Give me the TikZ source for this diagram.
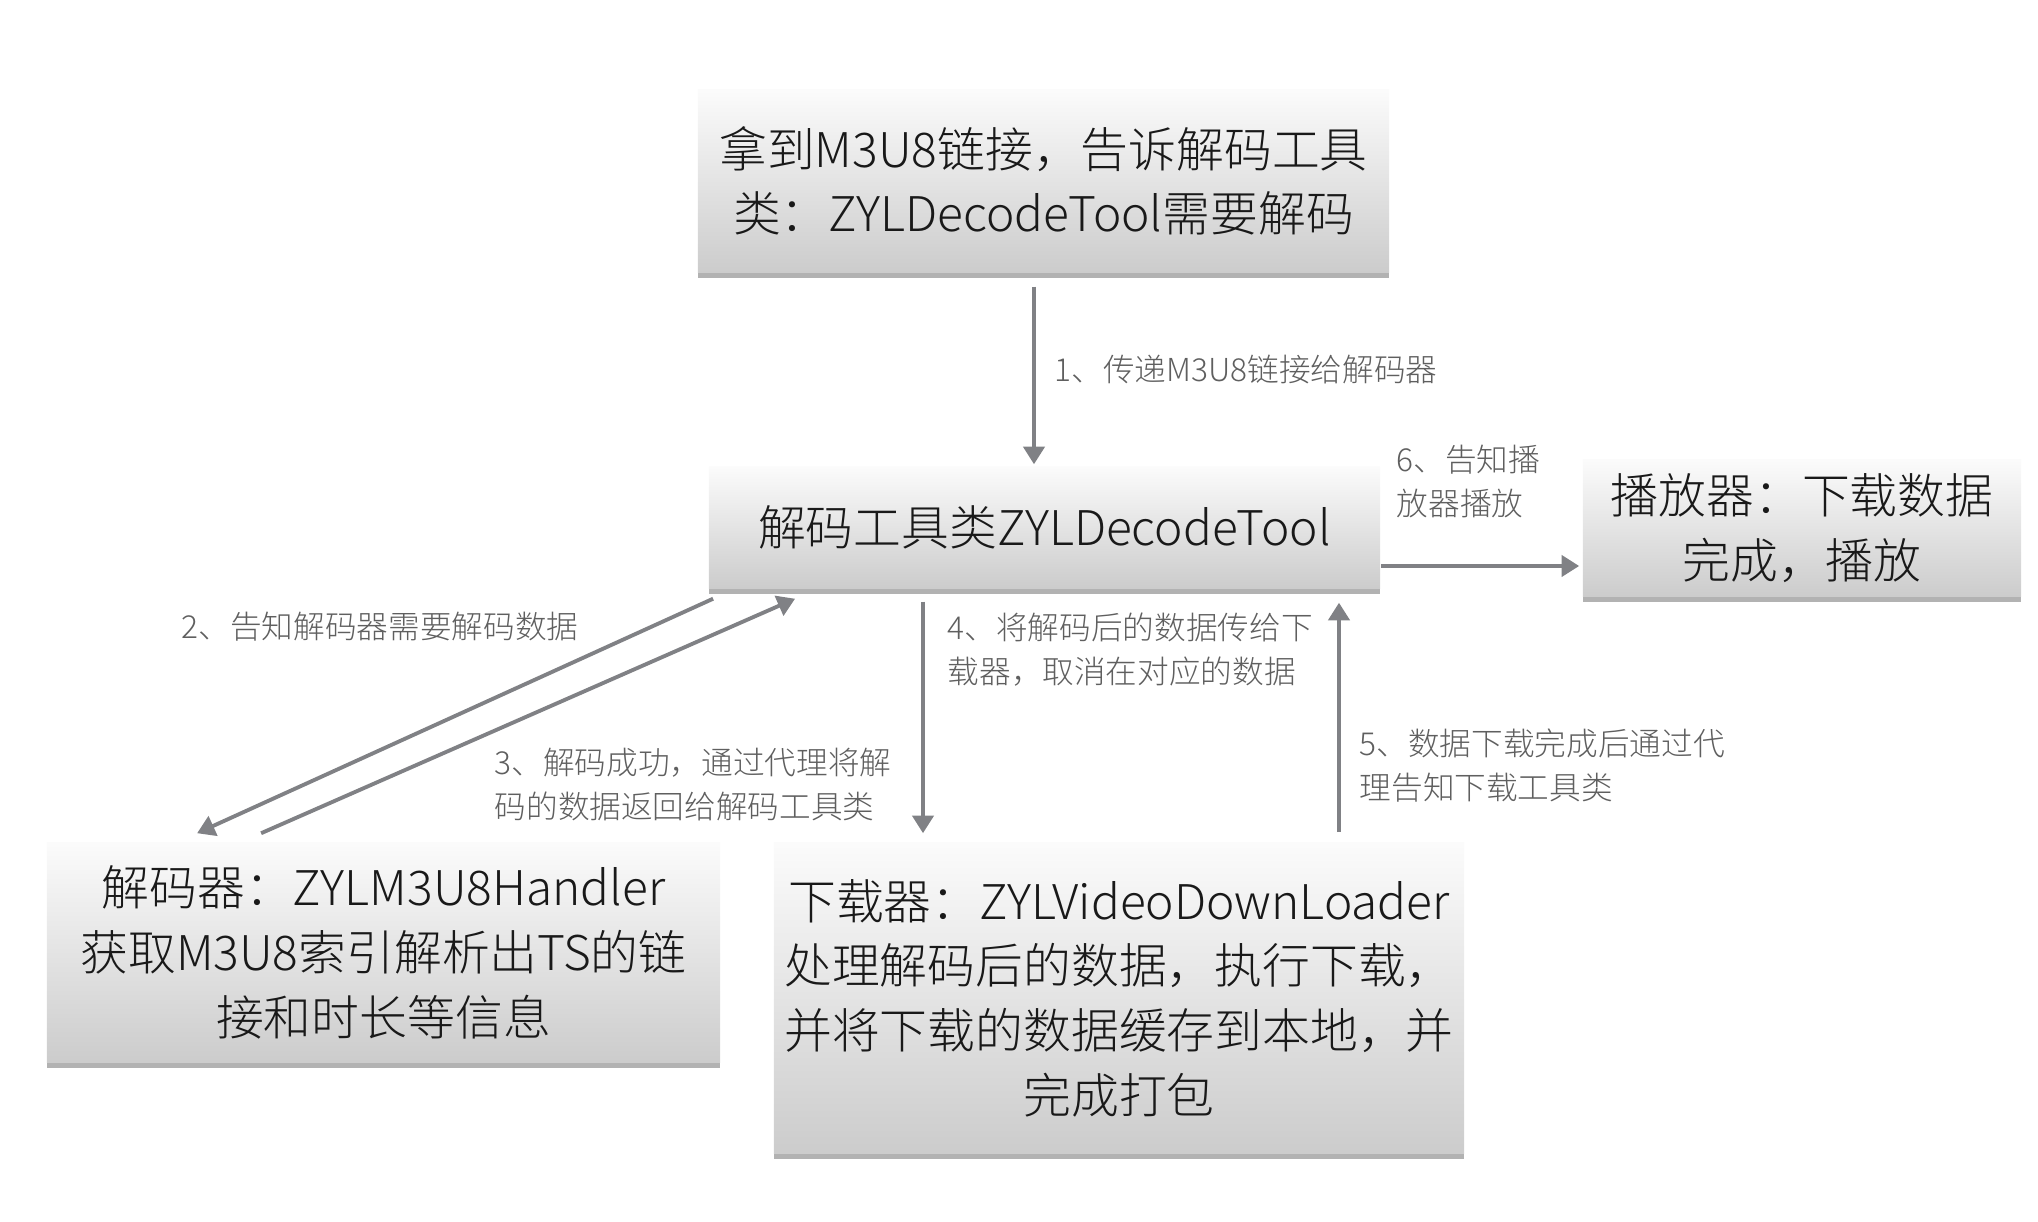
\documentclass[tikz,border=0pt]{standalone}
\usepackage{fontspec}
\setmainfont{Noto Sans CJK SC Light}
\usetikzlibrary{arrows.meta,shadows,calc}
\definecolor{linegray}{RGB}{128,129,133}
\definecolor{notegray}{RGB}{95,95,95}
\begin{document}
\begin{tikzpicture}[x=0.01cm,y=-0.01cm,
stage/.style={rectangle, top color=gray!3, bottom color=gray!40, draw=none,
  drop shadow={shadow xshift=0pt, shadow yshift=-1.8pt, opacity=.55, fill=black!55},
  font=\fontsize{13.6}{18.4}\selectfont, align=center, inner sep=0pt, text=black!90},
flow/.style={draw=linegray, line width=1.1pt, -{Triangle[length=5pt,width=6pt]}},
note/.style={text=notegray, font=\fontsize{9}{12.5}\selectfont, align=left, anchor=west, inner sep=0pt}]
\useasboundingbox (0,0) rectangle (2038,1222);
% boxes
\node[stage, minimum width=6.91cm, minimum height=1.82cm] (link) at (1043.5,181) {拿到M3U8链接，告诉解码工具\\类：ZYLDecodeTool需要解码};
\node[stage, minimum width=6.71cm, minimum height=1.21cm] (tool) at (1044.5,527.5) {解码工具类ZYLDecodeTool};
\node[stage, minimum width=4.38cm, minimum height=1.36cm] (player) at (1802,528) {播放器：下载数据\\完成，播放};
\node[stage, minimum width=6.73cm, minimum height=2.19cm] (decoder) at (383.5,952.5) {解码器：ZYLM3U8Handler\\获取M3U8索引解析出TS的链\\接和时长等信息};
\node[stage, minimum width=6.90cm, minimum height=3.10cm] (loader) at (1119,998) {下载器：ZYLVideoDownLoader\\处理解码后的数据，执行下载，\\并将下载的数据缓存到本地，并\\完成打包};
% arrows
\draw[flow] ($(link.south)+(-9.5,14)$) -- ($(tool.north)+(-10.5,-2)$);
\draw[flow] ($(tool.east)+(0,38.5)$) -- ($(player.west)+(-3,38)$);
\draw[flow] ($(tool.south west)+(5,10)$) -- ($(decoder.north west)+(151,-9)$);
\draw[flow] ($(decoder.north west)+(215,-9)$) -- ($(tool.south west)+(87,10)$);
\draw[flow] ($(tool.south)+(-121.5,13)$) -- ($(loader.north)+(-196,-9)$);
\draw[flow] ($(loader.north)+(220,-10)$) -- ($(tool.south)+(294.5,14)$);
% labels
\node[note] (n1) at (1054,370) {1、传递M3U8链接给解码器};
\node[note] (n6) at (1396,481.5) {6、告知播\\放器播放};
\node[note] (n2) at (181,627) {2、告知解码器需要解码数据};
\node[note] (n3) at (494,785) {3、解码成功，通过代理将解\\码的数据返回给解码工具类};
\node[note] (n4) at (947,650) {4、将解码后的数据传给下\\载器，取消在对应的数据};
\node[note] (n5) at (1359,765.5) {5、数据下载完成后通过代\\理告知下载工具类};
\end{tikzpicture}
\end{document}
